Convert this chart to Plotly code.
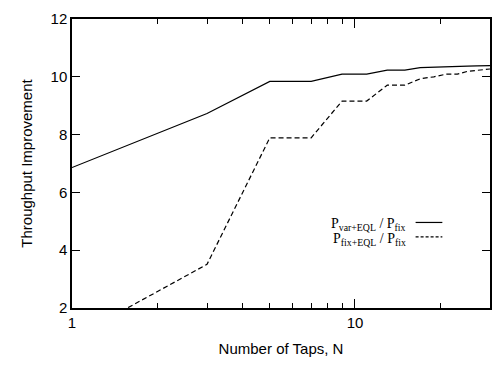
import math
import plotly.graph_objects as go

# Data
taps_n = [1, 3, 5, 7, 9, 11, 13, 15, 17, 19, 21, 23, 25, 27, 29, 30]
var_eql = [6.86, 8.73, 9.84, 9.84, 10.09, 10.09, 10.23, 10.23, 10.32, 10.33,
           10.33, 10.35, 10.37, 10.38, 10.39, 10.39]
fix_eql = [0.95, 3.51, 7.89, 7.89, 9.16, 9.16, 9.71, 9.71, 9.93, 10.0,
           10.09, 10.09, 10.19, 10.22, 10.26, 10.27]

x_major = [1, 10]
x_major_text = ["1", "10"]
x_minor = [2, 3, 4, 5, 6, 7, 8, 9, 20, 30]
y_ticks = [2, 4, 6, 8, 10, 12]

legend_labels = ["P<sub>var+EQL</sub> / P<sub>fix</sub>",
                 "P<sub>fix+EQL</sub> / P<sub>fix</sub>"]

fig = go.Figure()
fig.add_trace(go.Scatter(x=taps_n, y=var_eql, mode="lines",
                         line=dict(color="black", width=1.2),
                         showlegend=False, cliponaxis=True))
fig.add_trace(go.Scatter(x=taps_n, y=fix_eql, mode="lines",
                         line=dict(color="black", width=1.2, dash="5px,3px"),
                         showlegend=False, cliponaxis=True))

axis_font = dict(family="Liberation Sans, Arial, sans-serif", size=15, color="black")

fig.update_xaxes(type="log", range=[0, math.log10(30)],
                 tickvals=x_major, ticktext=x_major_text,
                 ticks="inside", ticklen=9, tickwidth=1.2, tickcolor="black",
                 minor=dict(tickvals=x_minor, ticks="inside", ticklen=5,
                            tickwidth=1.2, tickcolor="black", showgrid=False),
                 showline=True, linecolor="black", linewidth=1.5, mirror="allticks",
                 showgrid=False, zeroline=False,
                 tickfont=axis_font,
                 title=dict(text="Number of Taps, N", font=axis_font, standoff=14))
fig.update_yaxes(range=[2, 12], tickvals=y_ticks,
                 ticks="inside", ticklen=8, tickwidth=1.2, tickcolor="black",
                 showline=True, linecolor="black", linewidth=1.5, mirror="allticks",
                 showgrid=False, zeroline=False,
                 tickfont=axis_font,
                 title=dict(text="Throughput Improvement", font=axis_font, standoff=14))

serif = dict(family="Liberation Serif, Times New Roman, serif", size=14, color="black")
for i, lab in enumerate(legend_labels):
    yp = 0.288 - i * 0.05
    fig.add_annotation(xref="paper", yref="paper", x=0.805, y=yp,
                       text=lab, showarrow=False, xanchor="right",
                       yanchor="middle", font=serif)
    fig.add_shape(type="line", xref="paper", yref="paper",
                  x0=0.822, x1=0.886, y0=yp + 0.008, y1=yp + 0.008,
                  line=dict(color="black", width=1.2,
                            dash="solid" if i == 0 else "3px,2px"))

fig.update_layout(width=502, height=365,
                  margin=dict(l=72, r=10, t=13, b=53),
                  plot_bgcolor="white", paper_bgcolor="white")

fig.write_html("out.html")
